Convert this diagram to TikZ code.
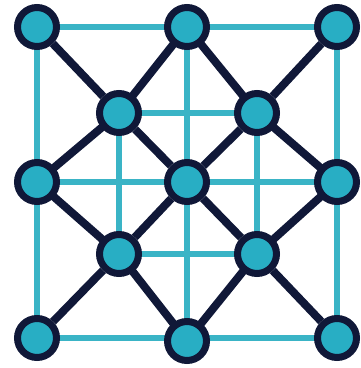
\documentclass[tikz,border=0pt]{standalone}
\usetikzlibrary{backgrounds}
\definecolor{gridblue}{RGB}{58,180,198}
\definecolor{dotfill}{RGB}{40,174,196}
\definecolor{navy}{RGB}{16,24,56}
\tikzset{
  dot/.style={circle,draw=navy,line width=7pt,fill=dotfill,minimum size=39pt,inner sep=0pt},
  gridline/.style={draw=gridblue,line width=6pt},
  linkline/.style={draw=navy,line width=8pt,line join=round}
}
\begin{document}
\begin{tikzpicture}[x=1pt,y=1pt,yscale=-1,xscale=1]
\useasboundingbox (0,0) rectangle (360,368);

% outer nodes
\node [dot] (tl) at (37,27) {};
\node [dot] (tm) at (187,27) {};
\node [dot] (tr) at (337,27) {};
\node [dot] (ml) at (37,182) {};
\node [dot] (mc) at (187,182) {};
\node [dot] (mr) at (337,182) {};
\node [dot] (bl) at (37,338) {};
\node [dot] (bm) at (187,341) {};
\node [dot] (br) at (337,338) {};
% inner nodes
\node [dot] (itl) at (119,113) {};
\node [dot] (itr) at (257,113) {};
\node [dot] (ibl) at (119,254) {};
\node [dot] (ibr) at (257,254) {};

\begin{scope}[on background layer]
% light grid
\draw [gridline] (tl.center) -- (tr.center) -- (br.center) -- (bl.center) -- cycle;
\draw [gridline] (tm.center) -- (bm.center);
\draw [gridline] (ml.center) -- (mr.center);
\draw [gridline] (itl.center) -- (itr.center) -- (ibr.center) -- (ibl.center) -- cycle;
% dark links
\draw [linkline] (tl) -- (itl) -- (mc) -- (ibr) -- (br);
\draw [linkline] (tr) -- (itr) -- (mc) -- (ibl) -- (bl);
\draw [linkline] (tm.center) -- (itl.center) -- (ml.center) -- (ibl.center) -- (bm.center) -- (ibr.center) -- (mr.center) -- (itr.center) -- cycle;
\end{scope}

\end{tikzpicture}
\end{document}
